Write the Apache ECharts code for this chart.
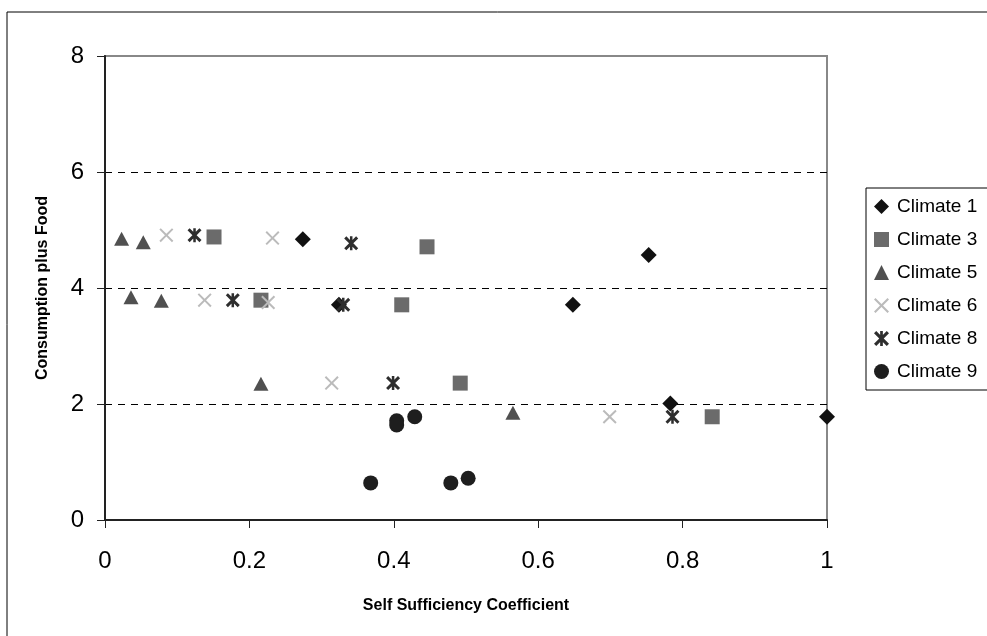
<!DOCTYPE html>
<html>
<head>
<meta charset="utf-8">
<script src="https://cdn.jsdelivr.net/npm/echarts@6/dist/echarts.min.js"></script>
<style>
  html, body { margin: 0; padding: 0; background: #fff; }
  #chartContainer { width: 987px; height: 636px; }
</style>
</head>
<body>
<div id="chartContainer"></div>
<script>
'use strict';
// values
const seriesNames = ['Climate 1', 'Climate 3', 'Climate 5', 'Climate 6', 'Climate 8', 'Climate 9'];

const climate1X = [0.274, 0.324, 0.753, 0.648, 0.783, 1.0];
const climate1Y = [4.84, 3.71, 4.57, 3.71, 2.01, 1.78];

const climate3X = [0.151, 0.216, 0.446, 0.411, 0.492, 0.841];
const climate3Y = [4.88, 3.79, 4.71, 3.71, 2.36, 1.78];

const climate5X = [0.023, 0.053, 0.036, 0.078, 0.216, 0.565];
const climate5Y = [4.85, 4.79, 3.84, 3.78, 2.35, 1.85];

const climate6X = [0.085, 0.232, 0.138, 0.226, 0.314, 0.699];
const climate6Y = [4.91, 4.86, 3.79, 3.75, 2.36, 1.78];

const climate8X = [0.124, 0.177, 0.330, 0.341, 0.399, 0.786];
const climate8Y = [4.91, 3.79, 3.71, 4.77, 2.36, 1.78];

const climate9X = [0.368, 0.404, 0.404, 0.429, 0.479, 0.503];
const climate9Y = [0.64, 1.71, 1.64, 1.78, 0.64, 0.72];

const xTicks = [0, 0.2, 0.4, 0.6, 0.8, 1];
const yTicks = [0, 2, 4, 6, 8];

let initChart = (function() {
    let chartContainer = document.getElementById('chartContainer');
    let demoChart = echarts.init(chartContainer);

    let font = ['Liberation Sans', 'Arial', 'Helvetica'];
    let pairs = (xs, ys) => xs.map((x, i) => [x, ys[i]]);

    // filled outlines for the cross and the asterisk marks
    let crossPath = 'path://M0,1L1,0L5,4L9,0L10,1L6,5L10,9L9,10L5,6L1,10L0,9L4,5Z';
    let starPath = 'path://M0,1.5L1.5,0L5,3.5L8.5,0L10,1.5L6.5,5L10,8.5L8.5,10L5,6.5L1.5,10L0,8.5L3.5,5Z' +
        'M4.1,0L5.9,0L5.9,10L4.1,10Z';

    let makeSeries = function(name, xs, ys, symbol, size, color) {
        return {
            name: name,
            type: 'scatter',
            data: pairs(xs, ys),
            symbol: symbol,
            symbolSize: size,
            itemStyle: { color: color, opacity: 1 },
            emphasis: { disabled: true }
        };
    };

    let option = {
        backgroundColor: '#fff',
        animation: false,
        graphic: [{
            type: 'rect',
            shape: { x: 7, y: 12, width: 990, height: 640 },
            style: { fill: 'none', stroke: '#000', lineWidth: 1 },
            z: 0
        }],
        legend: {
            orient: 'vertical',
            left: 866,
            top: 188,
            padding: [8, 30, 8, 8],
            itemGap: 12,
            itemWidth: 15,
            itemHeight: 15,
            borderColor: '#000',
            borderWidth: 1,
            textStyle: {
                fontFamily: font,
                fontSize: 19,
                lineHeight: 21,
                padding: [0, 0, 0, 3],
                color: '#000'
            },
            data: seriesNames
        },
        grid: {
            left: 105,
            top: 56,
            right: 160,
            bottom: 116,
            show: true,
            borderColor: '#888',
            borderWidth: 2
        },
        xAxis: {
            type: 'value',
            min: 0,
            max: 1,
            interval: 0.2,
            name: 'Self Sufficiency Coefficient',
            nameLocation: 'middle',
            nameGap: 78,
            nameTextStyle: {
                fontFamily: font,
                fontSize: 16,
                fontWeight: 'bold',
                color: '#000'
            },
            axisLine: {
                onZero: false,
                lineStyle: { color: '#222', width: 2 }
            },
            axisTick: {
                show: true,
                inside: false,
                length: 8,
                lineStyle: { color: '#222', width: 1 }
            },
            axisLabel: {
                margin: 29,
                fontFamily: font,
                fontSize: 24,
                color: '#000',
                formatter: v => xTicks.includes(+v.toFixed(1)) ? String(+v.toFixed(1)) : ''
            },
            splitLine: { show: false }
        },
        yAxis: {
            type: 'value',
            min: 0,
            max: 8,
            interval: 2,
            name: 'Consumption plus Food',
            nameLocation: 'middle',
            nameGap: 54,
            nameTextStyle: {
                fontFamily: font,
                fontSize: 16,
                fontWeight: 'bold',
                color: '#000'
            },
            axisLine: {
                show: true,
                lineStyle: { color: '#222', width: 2 }
            },
            axisTick: {
                show: true,
                inside: false,
                length: 8,
                lineStyle: { color: '#222', width: 1 }
            },
            axisLabel: {
                margin: 21,
                fontFamily: font,
                fontSize: 24,
                color: '#000',
                formatter: v => yTicks.includes(v) ? String(v) : ''
            },
            splitLine: {
                show: true,
                lineStyle: {
                    color: ['transparent', '#000', '#000', '#000', 'transparent'],
                    type: [7, 6],
                    width: 1
                }
            }
        },
        series: [
            makeSeries(seriesNames[0], climate1X, climate1Y, 'diamond', [16, 16], '#111'),
            makeSeries(seriesNames[1], climate3X, climate3Y, 'rect', [15, 15], '#6b6b6b'),
            makeSeries(seriesNames[2], climate5X, climate5Y, 'triangle', [15, 14], '#505050'),
            makeSeries(seriesNames[3], climate6X, climate6Y, crossPath, [14, 14], '#bbb'),
            makeSeries(seriesNames[4], climate8X, climate8Y, starPath, [14, 14], '#2e2e2e'),
            makeSeries(seriesNames[5], climate9X, climate9Y, 'circle', 15, '#1e1e1e')
        ]
    };

    demoChart.setOption(option);
})();
</script>
</body>
</html>
